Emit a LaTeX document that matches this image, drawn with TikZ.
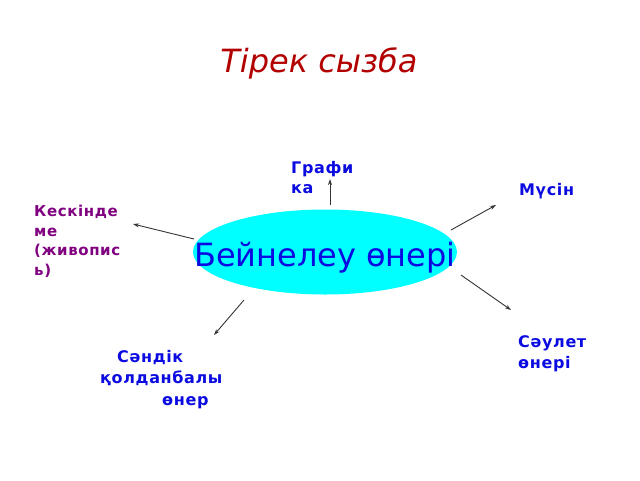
\documentclass[tikz,border=0pt]{standalone}
\usepackage{fontspec}
\setmainfont{DejaVu Sans}
\newfontfamily\lblfont[LetterSpace=4]{DejaVu Sans Bold}
\usetikzlibrary{arrows.meta,shapes.geometric}
\pgfdeclarelayer{edgelayer}
\pgfdeclarelayer{nodelayer}
\pgfsetlayers{edgelayer,nodelayer,main}
\definecolor{titlered}{RGB}{178,0,0}
\definecolor{lblblue}{RGB}{10,10,225}
\definecolor{lblpurple}{RGB}{128,0,128}
\definecolor{ovalcyan}{RGB}{0,255,255}
\tikzstyle{none}=[inner sep=0pt]
\tikzstyle{oval}=[ellipse,fill=ovalcyan,inner sep=0pt,minimum width=264pt,minimum height=85pt]
\tikzstyle{lbl}=[inner sep=0pt,anchor=base west,align=left,text=lblblue,font=\lblfont\fontsize{16}{20.5}\selectfont]
\tikzstyle{arr}=[draw=black!80,line width=0.9pt,-{Stealth[length=6pt,width=4pt]}]

\begin{document}
\begin{tikzpicture}[x=1pt,y=-1pt]
	\useasboundingbox (0,0) rectangle (640,480);
	\begin{pgfonlayer}{nodelayer}
		\node [style=none, anchor=base, text=titlered, font=\fontsize{32}{38}\selectfont\itshape] (t) at (319,72) {Тірек сызба};
		\node [style=oval] (0) at (325,252) {};
		\node [style=none, anchor=base, text=lblblue, font=\fontsize{32}{38}\selectfont] (c) at (325,266.5) {Бейнелеу өнері};
		\node [style=lbl] (1) at (291,193.5) {Графи\\ка};
		\node [style=lbl] (2) at (519,195) {Мүсін};
		\node [style=lbl, text=lblpurple, font=\lblfont\fontsize{15}{19.5}\selectfont] (3) at (34,275.2) {Кескінде\\ме\\(живопис\\ь)};
		\node [style=lbl] (4) at (518,368) {Сәулет\\өнері};
		\node [style=lbl, font=\lblfont\fontsize{16}{21.5}\selectfont] (5) at (100,405) {\hspace*{17pt}Сәндік\\қолданбалы\\\hspace*{62pt}өнер};
		\node [style=none] (6) at (330,205) {};
		\node [style=none] (7) at (330,179) {};
		\node [style=none] (8) at (451,230) {};
		\node [style=none] (9) at (496,205) {};
		\node [style=none] (10) at (194,239) {};
		\node [style=none] (11) at (133,224) {};
		\node [style=none] (12) at (244,300) {};
		\node [style=none] (13) at (214,335) {};
		\node [style=none] (14) at (461,275) {};
		\node [style=none] (15) at (511,310) {};
	\end{pgfonlayer}
	\begin{pgfonlayer}{edgelayer}
		\draw [style=arr] (6.center) to (7.center);
		\draw [style=arr] (8.center) to (9.center);
		\draw [style=arr] (10.center) to (11.center);
		\draw [style=arr] (12.center) to (13.center);
		\draw [style=arr] (14.center) to (15.center);
	\end{pgfonlayer}
\end{tikzpicture}
\end{document}
